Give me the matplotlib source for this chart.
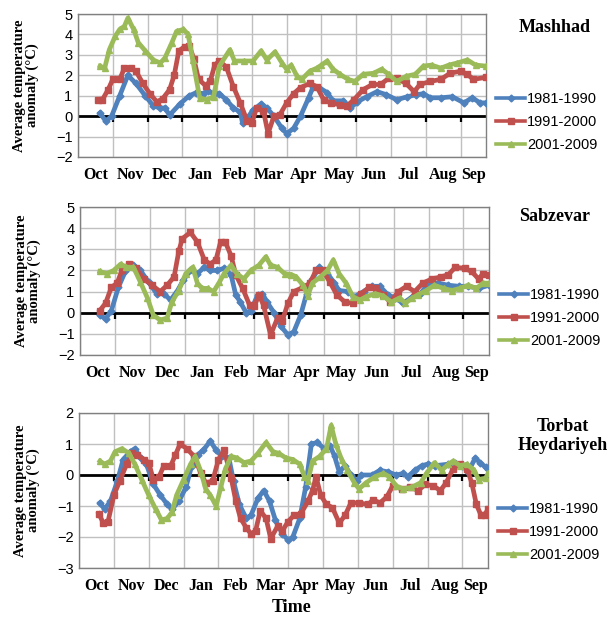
import matplotlib
matplotlib.use("Agg")
import matplotlib.pyplot as plt

# day index (0 = 1 Oct) and anomaly values
stations = ["Mashhad", "Sabzevar", "Torbat\nHeydariyeh"]
periods = ["1981-1990", "1991-2000", "2001-2009"]
months = ["Oct", "Nov", "Dec", "Jan", "Feb", "Mar", "Apr", "May", "Jun", "Jul", "Aug", "Sep"]

# --- Mashhad
m1_d = [19, 24, 29, 36, 43, 50, 58, 65, 71, 75, 79, 88, 96, 102, 108, 112, 117, 122, 128, 134, 140, 142, 146, 151,
        158, 163, 169, 176, 180, 186, 192, 199, 203, 208, 215, 220, 229, 235, 241, 249, 258, 266, 275, 284, 292, 298,
        304, 313, 323, 333, 340, 347, 352]
m1_v = [0.15, -0.25, 0.0, 1.0, 2.0, 1.6, 1.0, 0.5, 0.4, 0.4, 0.05, 0.6, 1.0, 1.15, 1.1, 1.25, 1.1, 1.1, 0.8, 0.4, 0.2,
        -0.35, -0.1, 0.3, 0.6, 0.4, 0.0, -0.6, -0.85, -0.6, 0.0, 0.9, 1.45, 1.4, 1.15, 0.75, 0.75, 0.4, 0.7, 0.95, 1.2,
        1.05, 0.8, 0.95, 1.05, 1.1, 0.9, 0.9, 0.95, 0.65, 0.9, 0.65, 0.65]
m2_d = [17, 21, 26, 30, 36, 40, 46, 50, 56, 62, 68, 73, 79, 83, 87, 92, 96, 100, 104, 110, 114, 118, 122, 128, 134,
        140, 146, 150, 154, 160, 164, 169, 174, 180, 186, 192, 200, 206, 212, 218, 226, 232, 238, 246, 254, 261, 268,
        275, 283, 290, 295, 304, 313, 321, 330, 336, 341, 352]
m2_v = [0.77, 0.8, 1.3, 1.8, 1.8, 2.35, 2.35, 2.2, 1.6, 1.1, 0.7, 0.85, 1.3, 2.0, 3.2, 3.4, 3.45, 2.8, 1.8, 1.5, 1.7,
        2.5, 2.7, 2.4, 1.45, 0.65, -0.25, -0.35, 0.4, 0.25, -0.85, 0.0, 0.05, 0.65, 1.1, 1.4, 1.6, 1.45, 0.8, 0.65,
        0.55, 0.5, 0.8, 1.3, 1.55, 1.55, 1.85, 1.85, 1.6, 1.2, 1.55, 1.7, 1.8, 2.1, 2.2, 2.05, 1.8, 1.9]
m3_d = [19, 23, 27, 32, 36, 40, 43, 48, 52, 58, 65, 71, 75, 81, 85, 91, 95, 99, 105, 111, 117, 122, 131, 135, 143,
        151, 158, 163, 170, 176, 180, 184, 189, 193, 200, 206, 210, 215, 220, 226, 233, 239, 246, 255, 262, 268, 275,
        283, 291, 298, 305, 313, 320, 327, 336, 343, 352]
m3_v = [2.45, 2.35, 3.25, 3.9, 4.25, 4.4, 4.8, 4.25, 3.6, 3.2, 2.75, 2.6, 2.85, 3.6, 4.15, 4.25, 4.0, 2.75, 0.9, 0.8,
        0.95, 2.45, 3.25, 2.7, 2.7, 2.7, 3.2, 2.75, 3.15, 2.6, 2.3, 2.5, 1.95, 1.8, 2.2, 2.35, 2.5, 2.7, 2.3, 2.05,
        1.8, 1.7, 2.05, 2.1, 2.3, 2.05, 1.7, 1.95, 2.05, 2.45, 2.5, 2.35, 2.5, 2.6, 2.75, 2.5, 2.45]

# --- Sabzevar
s1_d = [17, 22, 27, 33, 39, 46, 52, 59, 66, 72, 78, 84, 89, 95, 101, 107, 112, 118, 124, 130, 134, 138, 143, 147, 153,
        157, 161, 167, 173, 179, 184, 190, 195, 200, 206, 213, 219, 223, 231, 236, 244, 251, 258, 265, 271, 278, 286,
        293, 300, 308, 317, 326, 334, 343, 352]
s1_v = [-0.1, -0.3, 0.1, 1.2, 1.95, 2.25, 2.0, 1.45, 0.9, 0.9, 0.6, 1.05, 1.55, 2.0, 1.85, 2.15, 2.0, 2.0, 2.1, 1.8,
        0.85, 0.5, 0.0, 0.1, 0.85, 0.9, 0.5, 0.0, -0.65, -1.05, -0.9, -0.1, 0.9, 1.6, 2.15, 1.85, 1.4, 1.05, 1.0, 0.75,
        1.0, 1.25, 1.25, 0.85, 0.7, 0.45, 0.75, 0.9, 1.4, 1.4, 1.3, 1.25, 1.25, 1.15, 1.3]
s2_d = [17, 22, 27, 32, 36, 42, 48, 55, 62, 69, 75, 81, 85, 88, 95, 101, 107, 112, 117, 121, 125, 130, 134, 140, 146,
        150, 154, 158, 164, 170, 174, 179, 184, 192, 198, 203, 209, 215, 221, 228, 235, 242, 249, 255, 261, 267, 274,
        281, 288, 295, 303, 311, 317, 323, 331, 337, 343, 347, 352]
s2_v = [0.1, 0.45, 1.2, 1.4, 2.0, 2.3, 2.1, 1.6, 1.3, 1.0, 1.3, 1.7, 2.9, 3.5, 3.8, 3.35, 2.5, 2.3, 2.5, 3.35, 3.35,
        2.7, 1.8, 1.15, 0.35, 0.3, 0.85, 0.35, -1.05, -0.25, -0.4, 0.45, 1.0, 1.2, 1.4, 2.0, 2.0, 1.45, 0.85, 0.5,
        0.45, 0.9, 1.2, 1.15, 0.85, 0.5, 1.0, 1.25, 1.0, 1.4, 1.6, 1.7, 1.8, 2.15, 2.1, 1.95, 1.6, 1.85, 1.8]
s3_d = [17, 23, 29, 35, 40, 46, 52, 58, 63, 69, 75, 79, 85, 91, 97, 101, 105, 110, 115, 120, 124, 130, 135, 141, 147,
        154, 160, 164, 170, 176, 182, 186, 192, 196, 200, 207, 213, 218, 223, 229, 235, 241, 246, 254, 261, 268, 275,
        280, 286, 291, 298, 305, 313, 320, 327, 334, 341, 347, 352]
s3_v = [1.95, 1.85, 2.0, 2.3, 2.15, 2.15, 1.45, 0.7, -0.1, -0.35, -0.25, 0.5, 1.05, 1.85, 2.15, 1.4, 1.15, 1.15, 1.0,
        1.45, 1.85, 2.25, 1.85, 1.6, 2.0, 2.25, 2.65, 2.25, 2.15, 1.85, 1.8, 1.7, 1.3, 0.8, 1.4, 1.7, 2.0, 2.5, 1.85,
        1.4, 0.75, 0.6, 0.75, 0.9, 0.8, 0.5, 0.7, 0.45, 0.7, 0.85, 1.05, 1.3, 1.15, 1.05, 1.15, 1.3, 1.15, 1.4, 1.4]

# --- Torbat Heydariyeh
t1_d = [18, 22, 27, 33, 38, 44, 48, 53, 58, 64, 70, 76, 80, 86, 92, 97, 102, 107, 113, 118, 123, 129, 133, 138, 144,
        148, 154, 159, 164, 169, 175, 180, 184, 190, 195, 200, 205, 211, 216, 220, 224, 229, 234, 239, 243, 252, 259,
        266, 273, 279, 283, 289, 295, 300, 306, 318, 324, 330, 335, 341, 345, 350, 352]
t1_v = [-0.9, -1.1, -0.85, -0.2, 0.5, 0.75, 0.85, 0.55, 0.35, -0.3, -0.65, -0.95, -1.1, -0.85, -0.4, 0.3, 0.65, 0.8,
        1.1, 0.8, 0.6, 0.55, -0.2, -0.95, -1.4, -1.3, -0.75, -0.5, -0.85, -1.45, -1.9, -2.1, -2.0, -1.4, -0.4, 1.0,
        1.05, 0.85, 0.95, 0.6, 0.1, 0.3, 0.0, -0.2, 0.0, 0.0, 0.15, 0.1, 0.0, 0.05, -0.05, 0.15, 0.3, 0.35, 0.3, 0.35,
        0.4, 0.3, 0.1, 0.55, 0.4, 0.25, 0.2]
t2_d = [17, 21, 25, 30, 35, 41, 46, 50, 56, 60, 64, 69, 73, 79, 83, 87, 93, 99, 105, 109, 115, 120, 125, 131, 135,
        139, 144, 148, 152, 156, 161, 165, 171, 175, 180, 185, 191, 197, 201, 204, 208, 213, 218, 224, 229, 234, 241,
        249, 253, 259, 265, 270, 278, 285, 292, 298, 305, 311, 316, 322, 328, 334, 338, 342, 346, 349, 352]
t2_v = [-1.25, -1.55, -1.5, -0.65, -0.2, 0.35, 0.7, 0.65, 0.5, 0.4, -0.15, -0.05, 0.3, 0.3, 0.65, 1.0, 0.85, 0.6,
        0.05, -0.25, -0.2, 0.5, 0.8, -0.1, -0.85, -1.4, -1.7, -1.9, -1.8, -1.15, -1.4, -2.05, -1.65, -1.8, -1.5, -1.3,
        -1.25, -0.85, -0.5, -0.05, -0.65, -0.95, -1.05, -1.55, -1.3, -0.9, -0.9, -0.95, -0.8, -0.9, -0.7, -0.35,
        -0.45, -0.4, -0.5, -0.3, -0.35, -0.5, -0.25, 0.2, 0.35, 0.2, -0.25, -0.95, -1.3, -1.3, -1.1]
t3_d = [18, 22, 27, 31, 37, 43, 48, 54, 60, 66, 71, 76, 80, 84, 90, 96, 100, 105, 109, 113, 118, 122, 126, 131, 136,
        142, 148, 154, 161, 167, 172, 178, 184, 190, 194, 197, 201, 207, 213, 217, 221, 226, 231, 237, 241, 247, 255,
        262, 267, 273, 279, 286, 294, 299, 306, 312, 318, 322, 328, 334, 340, 344, 350, 352]
t3_v = [0.45, 0.35, 0.45, 0.75, 0.85, 0.7, 0.35, -0.15, -0.65, -1.1, -1.45, -1.4, -1.2, -0.65, -0.15, 0.35, 0.6, 0.1,
        -0.45, -0.65, -1.0, -0.4, 0.2, 0.6, 0.55, 0.4, 0.45, 0.7, 1.05, 0.75, 0.7, 0.55, 0.5, 0.35, -0.05, -0.2, 0.45,
        0.6, 0.85, 1.6, 1.0, 0.5, 0.15, -0.25, -0.45, -0.25, -0.05, 0.05, -0.05, -0.35, -0.45, -0.4, -0.25, 0.05, 0.4,
        0.15, 0.35, 0.45, 0.3, 0.35, 0.15, -0.15, -0.1, 0.05]

series = [
    [(m1_d, m1_v), (m2_d, m2_v), (m3_d, m3_v)],
    [(s1_d, s1_v), (s2_d, s2_v), (s3_d, s3_v)],
    [(t1_d, t1_v), (t2_d, t2_v), (t3_d, t3_v)],
]
ylims = [(-2, 5), (-2, 5), (-3, 2)]

colors = ["#4F81BD", "#C0504D", "#9BBB59"]
markers = ["D", "s", "^"]
msizes = [3.5, 4, 4.5]

serif = "Liberation Serif"
sans = "Liberation Sans"

fig = plt.figure(figsize=(6.1, 6.18), dpi=100)

# axes boxes in pixels: left, top, right, bottom
boxes = [(78, 14, 486, 157), (80, 207, 489, 355), (79, 413, 488, 568)]
leg_y = [0.245, 0.25, 0.232]
title_pos = [(555, 28), (555, 216), (563, 436)]

grid_days = list(range(0, 331, 30))
label_days = [15 + 30 * i for i in range(11)] + [341]

for k in range(3):
    l, t, r, b = boxes[k]
    ax = fig.add_axes([l / 610, 1 - b / 618, (r - l) / 610, (b - t) / 618])
    y0, y1 = ylims[k]

    for j in range(3):
        d, v = series[k][j]
        ax.plot(d, v, color=colors[j], marker=markers[j], ms=msizes[j], lw=3.4,
                mec=colors[j], label=periods[j], zorder=3 + j)

    ax.axhline(0, color="black", lw=2, zorder=2)
    ax.plot(grid_days[1:], [0] * (len(grid_days) - 1), ls="none", marker=3, ms=4,
            mew=1.6, color="black", zorder=2)

    ax.set_xlim(0, 352)
    ax.set_ylim(y0, y1)
    ax.set_xticks(grid_days)
    ax.set_xticklabels([])
    ax.set_xticks(label_days, months, minor=True)
    ax.tick_params(axis="x", which="both", length=0, pad=7)
    ax.set_yticks(range(y0, y1 + 1))
    ax.tick_params(axis="y", length=0, pad=4, labelsize=10.5)
    for lab in ax.get_yticklabels():
        lab.set_family(sans)
    for lab in ax.get_xticklabels(minor=True):
        lab.set_family(serif)
        lab.set_weight("bold")
        lab.set_fontsize(11.5)

    ax.grid(True, which="major", color="#c0c0c0", lw=1)
    for s in ax.spines.values():
        s.set_color("#808080")
        s.set_linewidth(1)

    ax.set_ylabel("Average temperature\nanomaly (\u00b0C)", family=serif, weight="bold",
                  fontsize=10.5, linespacing=1.0)
    ax.yaxis.set_label_coords(-0.095, 0.5)

    leg = ax.legend(loc="center left", bbox_to_anchor=(1.0, leg_y[k]), frameon=False,
                    prop={"family": sans, "size": 10.5}, handlelength=2.0, handletextpad=0.1,
                    labelspacing=0.6, borderaxespad=0.3)
    for h in leg.get_lines():
        h.set_linewidth(2.6)

    tx, ty = title_pos[k]
    fig.text(tx / 610, 1 - ty / 618, stations[k], ha="center", va="center", family=serif,
             weight="bold", fontsize=13, linespacing=1.1)

fig.text(292 / 610, 1 - 607 / 618, "Time", ha="center", va="center", family=serif,
         weight="bold", fontsize=13)

fig.savefig("out.png", dpi=100)
